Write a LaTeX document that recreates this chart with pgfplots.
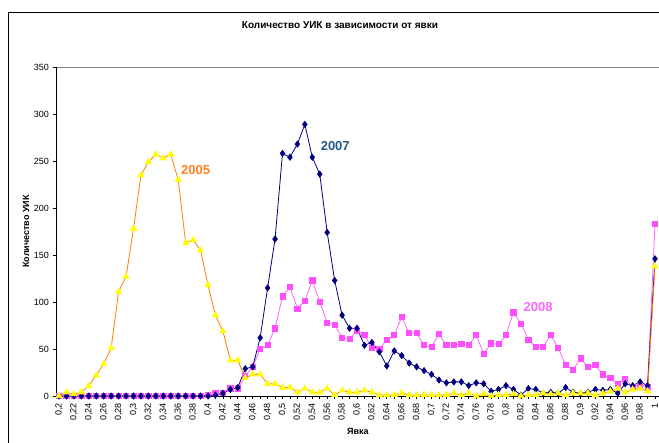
\documentclass[border=0pt]{standalone}
\usepackage{fontspec}
\setmainfont{Liberation Sans}
\usepackage{pgfplots}
\pgfplotsset{compat=1.18}
\usepackage{pgfplotstable}

\definecolor{c05line}{RGB}{255,128,0}
\definecolor{c05mark}{RGB}{255,255,0}
\definecolor{c05lab}{RGB}{255,128,32}
\definecolor{c07}{RGB}{0,0,128}
\definecolor{c07lab}{RGB}{31,90,140}
\definecolor{c08line}{RGB}{255,102,255}
\definecolor{c08mark}{RGB}{255,77,255}
\definecolor{c08lab}{RGB}{255,102,255}

\pgfplotstableread{
x y05 y07 y08
0.20 0 0 0
0.21 4 0 0
0.22 2 0 0
0.23 4 0 0
0.24 11 0 0
0.25 22 0 0
0.26 34 0 0
0.27 51 0 0
0.28 111 0 0
0.29 127 0 0
0.30 178 0 0
0.31 235 0 0
0.32 249 0 0
0.33 257 0 0
0.34 253 0 0
0.35 257 0 0
0.36 230 0 0
0.37 163 0 0
0.38 166 0 0
0.39 155 0 0
0.40 118 0 1
0.41 86 1 3
0.42 69 3 3
0.43 38 7 8
0.44 38 9 8
0.45 19 29 21
0.46 23 31 31
0.47 23 62 50
0.48 13 115 54
0.49 13 167 72
0.50 9 258 106
0.51 9 254 116
0.52 4 268 93
0.53 8 289 101
0.54 4 254 123
0.55 4 236 100
0.56 8 174 78
0.57 1 123 76
0.58 6 86 62
0.59 4 72 61
0.60 4 72 69
0.61 6 54 65
0.62 4 57 51
0.63 1 47 50
0.64 1 32 60
0.65 1 48 65
0.66 3 43 84
0.67 1 35 67
0.68 1 31 67
0.69 1 27 54
0.70 1 23 52
0.71 1 17 66
0.72 1 14 54
0.73 3 15 54
0.74 1 15 55
0.75 3 11 54
0.76 0 14 65
0.77 2 13 45
0.78 0 5 56
0.79 1 7 55
0.80 1 11 65
0.81 2 7 89
0.82 0 1 77
0.83 1 8 60
0.84 1 7 52
0.85 3 3 52
0.86 2 4 65
0.87 3 3 51
0.88 1 9 33
0.89 3 4 28
0.90 3 3 40
0.91 3 4 31
0.92 1 7 33
0.93 3 6 23
0.94 5 7 19
0.95 8 3 13
0.96 4 13 18
0.97 7 11 10
0.98 8 15 12
0.99 5 11 10
1.00 138 146 183
}\data

\begin{document}
\begin{tikzpicture}[x=1pt,y=1pt]
\begin{axis}[
  at={(56pt,-396pt)}, anchor=south west,
  scale only axis, width=606pt, height=329pt,
  xmin=0.19597, xmax=1.0094, ymin=0, ymax=350,
  clip=false,
  axis line style={draw=gray, line width=0.8pt},
  tick align=outside, tick pos=left,
  tick style={black, line width=0.7pt},
  major tick length=3.5pt, minor tick length=3.5pt,
  xtick={0.20,0.22,0.24,0.26,0.28,0.30,0.32,0.34,0.36,0.38,0.40,0.42,0.44,0.46,0.48,0.50,0.52,0.54,0.56,0.58,0.60,0.62,0.64,0.66,0.68,0.70,0.72,0.74,0.76,0.78,0.80,0.82,0.84,0.86,0.88,0.90,0.92,0.94,0.96,0.98,1.00},
  minor xtick={0.21,0.23,0.25,0.27,0.29,0.31,0.33,0.35,0.37,0.39,0.41,0.43,0.45,0.47,0.49,0.51,0.53,0.55,0.57,0.59,0.61,0.63,0.65,0.67,0.69,0.71,0.73,0.75,0.77,0.79,0.81,0.83,0.85,0.87,0.89,0.91,0.93,0.95,0.97,0.99},
  ytick={0,50,100,150,200,250,300,350},
  xticklabel style={rotate=90, anchor=east, font=\fontsize{9}{10}\selectfont},
  yticklabel style={font=\fontsize{9}{11}\selectfont},
  /pgf/number format/.cd, use comma, fixed, precision=2, assume math mode=true,
  /pgfplots/.cd,
  scaled ticks=false,
  title={Количество УИК в зависимости от явки},
  title style={at={(axis description cs:0.4686,1.1094)}, anchor=center, font=\bfseries\fontsize{10}{12}\selectfont},
  xlabel={Явка},
  xlabel style={at={(axis description cs:0.4983,-0.109)}, anchor=center, font=\bfseries\fontsize{9}{11}\selectfont},
  ylabel={Количество УИК},
  ylabel style={at={(axis description cs:-0.0495,0.5)}, anchor=center, rotate=0, font=\bfseries\fontsize{9}{11}\selectfont},
]
\draw[black, line width=0.8pt] (rel axis cs:0,1) -- (rel axis cs:0,0) -- (rel axis cs:1,0);
\addplot[color=c08line, line width=0.8pt, mark=square*, mark size=2.6pt,
  mark options={solid, fill=c08mark, draw=c08mark}] table[x=x, y=y08] {\data};
\addplot[color=c07, line width=0.8pt, mark=diamond*, mark size=3pt,
  mark options={solid, fill=c07, draw=c07}] table[x=x, y=y07] {\data};
\addplot[color=c05line, line width=0.8pt, mark=triangle*, mark size=3.4pt,
  mark options={solid, fill=c05mark, draw=c05mark}] table[x=x, y=y05] {\data};
\node[text=c05lab, font=\bfseries\fontsize{13}{15}\selectfont] at (axis cs:0.3834,240) {2005};
\node[text=c07lab, font=\bfseries\fontsize{13}{15}\selectfont] at (axis cs:0.5708,266) {2007};
\node[text=c08lab, font=\bfseries\fontsize{13}{15}\selectfont] at (axis cs:0.8432,95) {2008};
\end{axis}
\draw[black, line width=1pt] (8pt,-13pt) rectangle (720pt,-520pt);
\pgfresetboundingbox
\path[use as bounding box] (0pt,0pt) rectangle (659pt,-443pt);
\end{tikzpicture}
\end{document}
